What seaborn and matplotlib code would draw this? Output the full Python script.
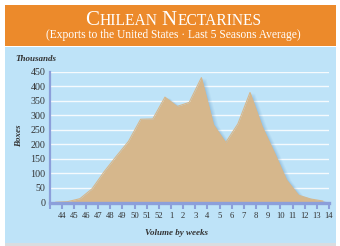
import numpy as np
import pandas as pd
import matplotlib
matplotlib.use("Agg")
import matplotlib.pyplot as plt
from matplotlib.patches import Rectangle
import seaborn as sns

# ---- data ----
weeks = ['44', '45', '46', '47', '48', '49', '50', '51', '52',
         '1', '2', '3', '4', '5', '6', '7', '8', '9', '10', '11', '12', '13', '14']
boxes_thousands = [1, 3, 13, 47, 106, 159, 210, 286, 287, 362, 330, 344,
                   429, 267, 206, 270, 378, 261, 172, 78, 25, 12, 5]
y_ticks = [0, 50, 100, 150, 200, 250, 300, 350, 400, 450]

title_words = [("C", "HILEAN"), ("N", "ECTARINES")]
subtitle = "(Exports to the United States \u00b7 Last 5 Seasons Average)"

ORANGE = "#EC8A2B"
BLUE = "#BEE3F8"
TAN = "#D6B78C"
AXIS = "#8C9FDA"
TXT = "#333333"

sns.set_theme(style="white")
plt.rcParams['font.family'] = ['Liberation Serif', 'DejaVu Serif']

W, H = 340, 246
fig = plt.figure(figsize=(W / 100, H / 100), dpi=100)
fig.patch.set_facecolor("white")

# background panels
fig.patches.append(Rectangle((5 / W, 1 - 243 / H), 331 / W, (243 - 47) / H,
                             transform=fig.transFigure, facecolor=BLUE, edgecolor="none", zorder=-10))
fig.patches.append(Rectangle((5 / W, 1 - 46 / H), 331 / W, 41 / H,
                             transform=fig.transFigure, facecolor=ORANGE, edgecolor="none", zorder=-10))
fig.patches.append(Rectangle((5 / W, 0), 331 / W, 3 / H,
                             transform=fig.transFigure, facecolor="#D9DDE0", edgecolor="none", zorder=-10))

ax = fig.add_axes([49.5 / W, 1 - 202.5 / H, (329 - 49.5) / W, (202.5 - 71.5) / H])
ax.set_facecolor("none")

n = len(weeks)
df = pd.DataFrame({"pos": np.arange(n) + 0.5, "boxes": boxes_thousands})
xs = np.concatenate([[0], df["pos"].values, [n]])
ys = np.concatenate([[0], df["boxes"].values, [0]])

# gridlines
for v in y_ticks[1:]:
    ax.axhline(v, color="white", lw=1.0, alpha=0.85, zorder=1)

# soft shadow
for dx, a in [(0.36, 0.06), (0.27, 0.08), (0.18, 0.10), (0.09, 0.12)]:
    ax.fill_between(xs + dx, ys - dx * 6, 0, color="#4F86B8", alpha=a, lw=0, zorder=2)

ax.fill_between(xs, ys, 0, color=TAN, lw=0, zorder=3)
sns.lineplot(data=df, x="pos", y="boxes", ax=ax, color=TAN, lw=0.8, zorder=4)

ax.set_xlim(0, n)
ax.set_ylim(0, 450)
ax.set_xticks(np.arange(0, n + 1))
ax.set_xticklabels([""] + weeks)
ax.set_yticks(y_ticks)
ax.set_yticklabels([str(v) for v in y_ticks])
ax.set_xlabel("")
ax.set_ylabel("")

for s in ["top", "right"]:
    ax.spines[s].set_visible(False)
ax.spines["left"].set_color(AXIS)
ax.spines["left"].set_linewidth(1.6)
ax.spines["bottom"].set_color(AXIS)
ax.spines["bottom"].set_linewidth(2.4)
ax.spines["bottom"].set_zorder(6)
ax.tick_params(axis="x", direction="out", length=4, width=1.5, color=AXIS,
               labelsize=6.2, labelcolor=TXT, pad=3, bottom=True)
ax.tick_params(axis="y", length=0, labelsize=7.2, labelcolor=TXT, pad=3, left=False)

# axis texts
fig.text(15 / W, 1 - 59 / H, "Thousands", fontsize=6.5, style="italic", fontweight="bold",
         color=TXT, ha="left", va="center")
fig.text(19 / W, 1 - 136 / H, "Boxes", fontsize=6.5, style="italic", fontweight="bold",
         color=TXT, ha="center", va="center", rotation=90)
fig.text(176 / W, 1 - 233 / H, "Volume by weeks", fontsize=6.5, style="italic", fontweight="bold",
         color=TXT, ha="center", va="center")

# small-caps title
renderer = fig.canvas.get_renderer()
big, small = 15.0, 11.2
gap = 4.5
pieces = []
for i, (cap, rest) in enumerate(title_words):
    t1 = fig.text(0, 1 - 25 / H, cap, fontsize=big, color="white", ha="left", va="baseline")
    t2 = fig.text(0, 1 - 25 / H, rest, fontsize=small, color="white", ha="left", va="baseline")
    pieces.append((t1, 0.5))
    pieces.append((t2, gap if i < len(title_words) - 1 else 0))
widths = [t.get_window_extent(renderer).width for t, _ in pieces]
total = sum(widths) + sum(g for _, g in pieces)
x0 = 173 - total / 2
for (t, g), w in zip(pieces, widths):
    t.set_x(x0 / W)
    x0 += w + g

fig.text(173 / W, 1 - 38 / H, subtitle, fontsize=8.3, color="white", ha="center", va="baseline")

fig.savefig("out.png", dpi=100, facecolor=fig.get_facecolor())
